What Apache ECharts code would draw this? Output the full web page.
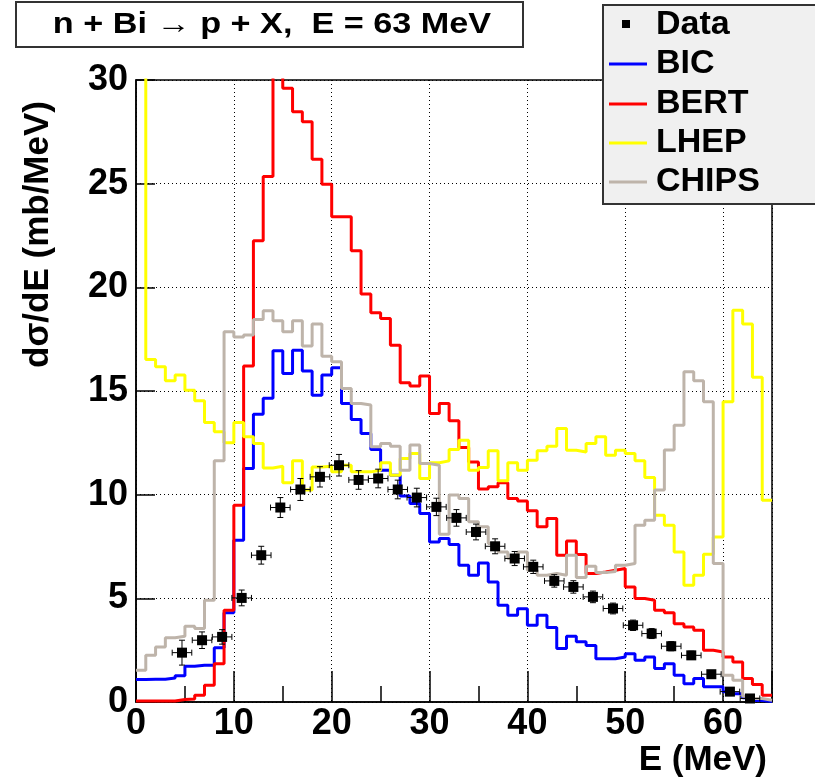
<!DOCTYPE html>
<html>
<head>
<meta charset="utf-8">
<script src="https://cdn.jsdelivr.net/npm/echarts@6.0.0/dist/echarts.min.js"></script>
<style>
  html, body { margin: 0; padding: 0; background: #fff; }
  #main { width: 815px; height: 782px; }
</style>
</head>
<body>
<div id="main"></div>
<script>
// histograms: 65 bins of 1 MeV starting at 0
var binLow = 0;
var binWidth = 1;

var bicValues = [1.08, 1.1, 1.1, 1.16, 1.27, 1.72, 1.77, 1.77, 2.62, 4.3,
	7.8, 11.26, 13.88, 14.65, 16.94, 15.85, 16.97, 15.96, 14.8, 15.77,
	16.12, 14.4, 13.63, 12.95, 12.18, 11.18, 10.94, 9.93, 9.57, 9.09,
	7.72, 7.88, 7.6, 6.6, 6.11, 6.71, 5.79, 4.67, 4.18, 4.5,
	3.7, 4.18, 3.59, 2.58, 3.17, 2.9, 2.73, 2.09, 2.09, 2.17,
	2.33, 2.01, 2.17, 1.61, 1.85, 1.29, 0.88, 1.13, 0.73, 0.73,
	0.5, 0.4, 0.2, 0.07, 0.02];

var bertValues = [0.05, 0.05, 0.05, 0.05, 0.12, 0.15, 0.32, 0.81, 1.85, 4.43,
	9.49, 16.2, 22.25, 25.34, 31, 29.6, 28.47, 27.99, 26.18, 24.97,
	23.41, 23.41, 21.77, 19.68, 18.77, 18.5, 17.21, 15.4, 15.24, 15.72,
	13.92, 14.4, 13.56, 12.28, 11.58, 10.27, 10.38, 10.57, 9.82, 9.7,
	9.22, 8.45, 8.85, 7.08, 7.77, 7.12, 6.2, 6.27, 6.35, 6.44,
	5.55, 4.99, 4.91, 4.43, 4.3, 3.78, 3.62, 3.46, 2.5, 2.41,
	2.17, 1.93, 1.13, 0.84, 0.32];

var lhepValues = [40, 16.52, 16.17, 15.49, 15.77, 15.04, 14.53, 13.48, 13.03, 12.5,
	13.48, 12.79, 12.47, 11.29, 11.37, 10.57, 11.63, 10.22, 11.33, 11.37,
	11.1, 11.42, 11.1, 11.1, 11.18, 11.54, 10.94, 11.75, 11.99, 10.78,
	11.54, 11.63, 12.18, 12.63, 11.18, 11.31, 12.12, 10.67, 11.54, 11.18,
	11.66, 12.12, 12.34, 13.19, 12.14, 12.06, 12.47, 12.79, 11.9, 12.14,
	11.99, 11.63, 10.83, 9.01, 8.53, 7.24, 5.63, 6.11, 7.13, 7.96,
	14.48, 18.9, 18.23, 15.66, 9.73];

var chipsValues = [1.53, 2.25, 2.65, 3.1, 3.17, 3.65, 3.54, 4.91, 11.63, 17.86,
	17.6, 17.7, 18.45, 18.87, 18.39, 17.86, 18.39, 17.17, 18.23, 16.68,
	16.41, 15.12, 14.4, 14.32, 12.31, 12.47, 12.34, 11.18, 12.39, 11.5,
	11.42, 8.09, 9.98, 9.82, 8.69, 8.45, 7.64, 7.24, 6.92, 7.24,
	6.36, 6.11, 6.2, 6.11, 7.08, 6.0, 6.55, 6.24, 6.29, 6.6,
	6.68, 8.53, 8.77, 10.22, 12.15, 13.35, 15.93, 15.49, 14.48, 6.68,
	1.29, 1.05, 0.28, 0.17, 0.08];

// measured points
var dataE = [4.7, 6.75, 8.8, 10.8, 12.8, 14.75, 16.8, 18.8, 20.75, 22.75,
	24.75, 26.75, 28.7, 30.7, 32.75, 34.75, 36.7, 38.7, 40.6, 42.75,
	44.7, 46.7, 48.75, 50.8, 52.7, 54.7, 56.75, 58.8, 60.7, 62.75];
var dataXsec = [2.38, 2.98, 3.14, 5.02, 7.08, 9.38, 10.25, 10.86, 11.42, 10.71,
	10.78, 10.25, 9.86, 9.41, 8.88, 8.2, 7.51, 6.92, 6.52, 5.84,
	5.55, 5.07, 4.51, 3.7, 3.3, 2.69, 2.25, 1.34, 0.5, 0.17];
var dataErr = [0.6, 0.4, 0.35, 0.38, 0.43, 0.48, 0.53, 0.49, 0.52, 0.45,
	0.45, 0.45, 0.45, 0.42, 0.4, 0.38, 0.36, 0.34, 0.32, 0.3,
	0.3, 0.28, 0.26, 0.25, 0.24, 0.22, 0.2, 0.18, 0.15, 0.12];
var dataEErr = 1;

var legendNames = ['Data', 'BIC', 'BERT', 'LHEP', 'CHIPS'];
var lineColors = ['#0000ff', '#ff0000', '#ffff00', '#beb4aa'];

var titleText = 'n + Bi \u2192 p + X,  E = 63 MeV';
var xTitle = 'E (MeV)';
var yTitle = 'd\u03c3/dE (mb/MeV)';

var FONT = '"Liberation Sans", Arial, Helvetica, sans-serif';

// step points for a histogram, last edge closes the final bin
function histPoints(values) {
	var pts = [];
	for (var i = 0; i < values.length; i++) {
		pts.push([binLow + i * binWidth, values[i]]);
	}
	pts.push([binLow + values.length * binWidth, values[values.length - 1]]);
	return pts;
}

function histSeries(name, values, color, z) {
	return {
		name : name,
		type : 'line',
		step : 'end',
		data : histPoints(values),
		showSymbol : false,
		symbol : 'none',
		clip : true,
		z : z,
		lineStyle : { color : color, width : 3 },
		itemStyle : { color : color },
		animation : false
	};
}

function renderData(params, api) {
	var e = api.value(0), v = api.value(1), err = api.value(2);
	var c = api.coord([e, v]);
	var l = api.coord([e - dataEErr, v]);
	var r = api.coord([e + dataEErr, v]);
	var t = api.coord([e, v + err]);
	var b = api.coord([e, v - err]);
	var cap = 3, half = 5;
	var st = { stroke : '#000', lineWidth : 1 };
	return {
		type : 'group',
		children : [
			{ type : 'line', shape : { x1 : l[0], y1 : c[1], x2 : r[0], y2 : c[1] }, style : st },
			{ type : 'line', shape : { x1 : l[0], y1 : c[1] - cap, x2 : l[0], y2 : c[1] + cap }, style : st },
			{ type : 'line', shape : { x1 : r[0], y1 : c[1] - cap, x2 : r[0], y2 : c[1] + cap }, style : st },
			{ type : 'line', shape : { x1 : c[0], y1 : t[1], x2 : c[0], y2 : b[1] }, style : st },
			{ type : 'line', shape : { x1 : c[0] - cap, y1 : t[1], x2 : c[0] + cap, y2 : t[1] }, style : st },
			{ type : 'line', shape : { x1 : c[0] - cap, y1 : b[1], x2 : c[0] + cap, y2 : b[1] }, style : st },
			{ type : 'rect', shape : { x : c[0] - half, y : c[1] - half, width : 2 * half, height : 2 * half }, style : { fill : '#000' } }
		]
	};
}

var pointData = dataE.map(function(e, i) {
	return [e, dataXsec[i], dataErr[i]];
});

// legend and title boxes drawn by hand, ROOT style
var graphics = [
	{ type : 'rect', shape : { x : 16, y : 2, width : 507, height : 45 },
		style : { fill : '#fff', stroke : '#333', lineWidth : 2 }, z : 10 },
	{ type : 'text', x : 272, y : 25, scaleX : 1.18, z : 11,
		style : { text : titleText, font : 'bold 29px ' + FONT, fill : '#000', align : 'center', verticalAlign : 'middle' } },
	{ type : 'rect', shape : { x : 603, y : 5, width : 230, height : 199 },
		style : { fill : '#f0f0f0', stroke : '#333', lineWidth : 2 }, z : 10 },
	{ type : 'rect', shape : { x : 622, y : 20, width : 8, height : 8 },
		style : { fill : '#000' }, z : 11 },
	{ type : 'text', x : 38, y : 368, rotation : Math.PI / 2,
		style : { text : yTitle, font : 'bold 35px ' + FONT, fill : '#000', align : 'left', verticalAlign : 'middle' } },
	{ type : 'text', x : 767, y : 760,
		style : { text : xTitle, font : 'bold 35px ' + FONT, fill : '#000', align : 'right', verticalAlign : 'middle' } }
];
var rowY = [25, 64, 104, 143, 182];
for (var k = 0; k < legendNames.length; k++) {
	graphics.push({ type : 'text', x : 656, y : rowY[k], z : 11,
		style : { text : legendNames[k], font : 'bold 34px ' + FONT, fill : '#000', align : 'left', verticalAlign : 'middle' } });
	if (k > 0) {
		graphics.push({ type : 'line', z : 11,
			shape : { x1 : 609, y1 : rowY[k], x2 : 647, y2 : rowY[k] },
			style : { stroke : lineColors[k - 1], lineWidth : 3 } });
	}
}

var option = {
	backgroundColor : '#fff',
	animation : false,
	grid : {
		left : 136,
		right : 43,
		top : 80,
		bottom : 80,
		show : true,
		borderColor : '#000',
		borderWidth : 1.5,
		backgroundColor : '#fff'
	},
	xAxis : {
		type : 'value',
		min : 0,
		max : 65,
		interval : 10,
		axisLine : { show : true, lineStyle : { color : '#000', width : 1.5 } },
		axisTick : { show : true, inside : true, length : 31, lineStyle : { color : '#000', width : 1.5 } },
		minorTick : { show : true, splitNumber : 2, length : 16, lineStyle : { color : '#000', width : 1.5 } },
		splitLine : { show : true, lineStyle : { color : '#000', width : 1, type : [1, 3] } },
		axisLabel : { color : '#000', fontSize : 36, fontWeight : 'bold', fontFamily : FONT, margin : 4, showMaxLabel : false }
	},
	yAxis : {
		type : 'value',
		min : 0,
		max : 30,
		interval : 5,
		axisLine : { show : true, lineStyle : { color : '#000', width : 1.5 } },
		axisTick : { show : true, inside : true, length : 19, lineStyle : { color : '#000', width : 1.5 } },
		splitLine : { show : true, lineStyle : { color : '#000', width : 1, type : [1, 3] } },
		axisLabel : { color : '#000', fontSize : 36, fontWeight : 'bold', fontFamily : FONT, margin : 8 }
	},
	series : [
		histSeries('BIC', bicValues, lineColors[0], 2),
		histSeries('BERT', bertValues, lineColors[1], 3),
		histSeries('LHEP', lhepValues, lineColors[2], 4),
		histSeries('CHIPS', chipsValues, lineColors[3], 5),
		{
			name : 'Data',
			type : 'custom',
			renderItem : renderData,
			data : pointData,
			encode : { x : 0, y : 1 },
			z : 6,
			animation : false
		}
	],
	graphic : graphics
};

var myChart = echarts.init(document.getElementById('main'));
myChart.setOption(option);
</script>
</body>
</html>
